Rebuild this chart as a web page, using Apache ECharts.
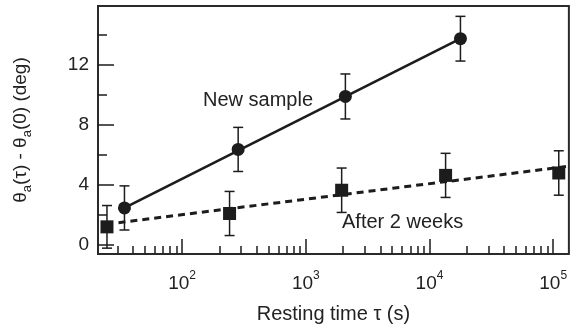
<!DOCTYPE html>
<html>
<head>
<meta charset="utf-8">
<script src="https://cdn.jsdelivr.net/npm/echarts@6/dist/echarts.min.js"></script>
<style>
  html, body { margin: 0; background: #fff; }
  #main { width: 570px; height: 336px; }
</style>
</head>
<body>
<div id="main"></div>
<script>
// New sample (circles)
const newTime = [34.2, 284, 2090, 17800];
const newAngle = [2.47, 6.37, 9.9, 13.75];
const newErr = [1.47, 1.47, 1.5, 1.49];
const newFitTime = [34.2, 17800];
const newFitAngle = [2.47, 13.75];

// After 2 weeks (squares)
const oldTime = [24.7, 242, 1950, 13500, 111000];
const oldAngle = [1.21, 2.1, 3.65, 4.64, 4.8];
const oldErr = [1.42, 1.47, 1.48, 1.47, 1.48];
const oldFitTime = [30.6, 134000];
const oldFitAngle = [1.49, 5.25];

// axes
const xMin = 20.9, xMax = 134000;
const yMin = -0.6, yMax = 15.93;
const decadeLabels = [2, 3, 4, 5];
const yMajor = [0, 4, 8, 12];
const yMinor = [2, 6, 10, 14];

const ink = '#1c1c1c';
const font = 'Liberation Sans';
const lg = Math.log10;

const minorLog = [];
for (let d = 1; d <= 5; d++) {
  for (let k = 2; k <= 9; k++) {
    const v = d + lg(k);
    if (v > lg(xMin) && v < lg(xMax)) minorLog.push(v);
  }
}

const zip = (a, b, c) => a.map((v, i) => c ? [v, b[i], c[i]] : [v, b[i]]);

function errorBars(params, api) {
  const x = api.value(0), y = api.value(1), e = api.value(2);
  const top = api.coord([x, y + e]);
  const bot = api.coord([x, y - e]);
  const w = 5;
  const st = { stroke: ink, lineWidth: 1.5 };
  return {
    type: 'group',
    children: [
      { type: 'line', shape: { x1: top[0], y1: top[1], x2: bot[0], y2: bot[1] }, style: st },
      { type: 'line', shape: { x1: top[0] - w, y1: top[1], x2: top[0] + w, y2: top[1] }, style: st },
      { type: 'line', shape: { x1: bot[0] - w, y1: bot[1], x2: bot[0] + w, y2: bot[1] }, style: st }
    ]
  };
}

const chart = echarts.init(document.getElementById('main'), null, { renderer: 'canvas' });

const tickStyle = { color: ink, width: 1.5 };
const noLine = { show: false, onZero: false };

chart.setOption({
  animation: false,
  textStyle: { fontFamily: font },
  grid: {
    left: 96, top: 6, right: -2, bottom: 82,
    show: true, borderColor: '#2a2a2a', borderWidth: 2
  },
  xAxis: [
    {
      type: 'log', min: xMin, max: xMax, position: 'bottom',
      axisLine: noLine, axisTick: { show: false },
      axisLabel: { show: false }, splitLine: { show: false },
      name: 'Resting time τ (s)', nameLocation: 'middle', nameGap: 50,
      nameTextStyle: { fontSize: 20, color: '#222', fontFamily: font }
    },
    {
      type: 'value', min: lg(xMin), max: lg(xMax), position: 'bottom',
      axisLine: noLine, splitLine: { show: false },
      axisTick: { inside: true, length: 15, customValues: decadeLabels, lineStyle: tickStyle },
      axisLabel: {
        customValues: decadeLabels, margin: 16,
        formatter: v => '{b|10}{s|' + v + '}',
        rich: {
          b: { fontSize: 19, lineHeight: 28, color: '#222', fontFamily: font },
          s: { fontSize: 12, lineHeight: 10, verticalAlign: 'top', color: '#222', fontFamily: font }
        }
      }
    },
    {
      type: 'value', min: lg(xMin), max: lg(xMax), position: 'bottom',
      axisLine: noLine, splitLine: { show: false },
      axisTick: { inside: true, length: 8, customValues: minorLog, lineStyle: tickStyle },
      axisLabel: { show: false }
    }
  ],
  yAxis: [
    {
      type: 'value', min: yMin, max: yMax, position: 'left',
      axisLine: noLine, splitLine: { show: false },
      axisTick: { inside: true, length: 16, customValues: yMajor, lineStyle: tickStyle },
      axisLabel: { customValues: yMajor, margin: 9, fontSize: 19, color: '#222' },
      name: 'θ{s|a}(τ) - θ{s|a}(0) (deg)', nameLocation: 'middle', nameGap: 64, nameRotate: 90,
      nameTextStyle: {
        fontSize: 19, color: '#222', lineHeight: 26, fontFamily: font,
        rich: {
          s: { fontSize: 13, lineHeight: 13, verticalAlign: 'bottom', color: '#222', fontFamily: font }
        }
      }
    },
    {
      type: 'value', min: yMin, max: yMax, position: 'left',
      axisLine: noLine, splitLine: { show: false },
      axisTick: { inside: true, length: 9, customValues: yMinor, lineStyle: tickStyle },
      axisLabel: { show: false }
    }
  ],
  graphic: [
    { type: 'text', left: 203, top: 90, style: { text: 'New sample', fontSize: 20, fill: '#222', fontFamily: font } },
    { type: 'text', left: 342, top: 212, style: { text: 'After 2 weeks', fontSize: 20, fill: '#222', fontFamily: font } }
  ],
  series: [
    {
      type: 'line', data: zip(newFitTime, newFitAngle), symbol: 'none', silent: true,
      lineStyle: { color: ink, width: 2.6, type: 'solid' }
    },
    {
      type: 'line', data: zip(oldFitTime, oldFitAngle), symbol: 'none', silent: true,
      lineStyle: { color: ink, width: 3, type: [7, 5] }
    },
    { type: 'custom', renderItem: errorBars, data: zip(newTime, newAngle, newErr), encode: { x: 0, y: 1 }, z: 3 },
    { type: 'custom', renderItem: errorBars, data: zip(oldTime, oldAngle, oldErr), encode: { x: 0, y: 1 }, z: 3 },
    {
      type: 'scatter', data: zip(newTime, newAngle), symbol: 'circle', symbolSize: 13,
      itemStyle: { color: ink, opacity: 1 }, z: 4
    },
    {
      type: 'scatter', data: zip(oldTime, oldAngle), symbol: 'rect', symbolSize: 13,
      itemStyle: { color: ink, opacity: 1 }, z: 4
    }
  ]
});
</script>
</body>
</html>
